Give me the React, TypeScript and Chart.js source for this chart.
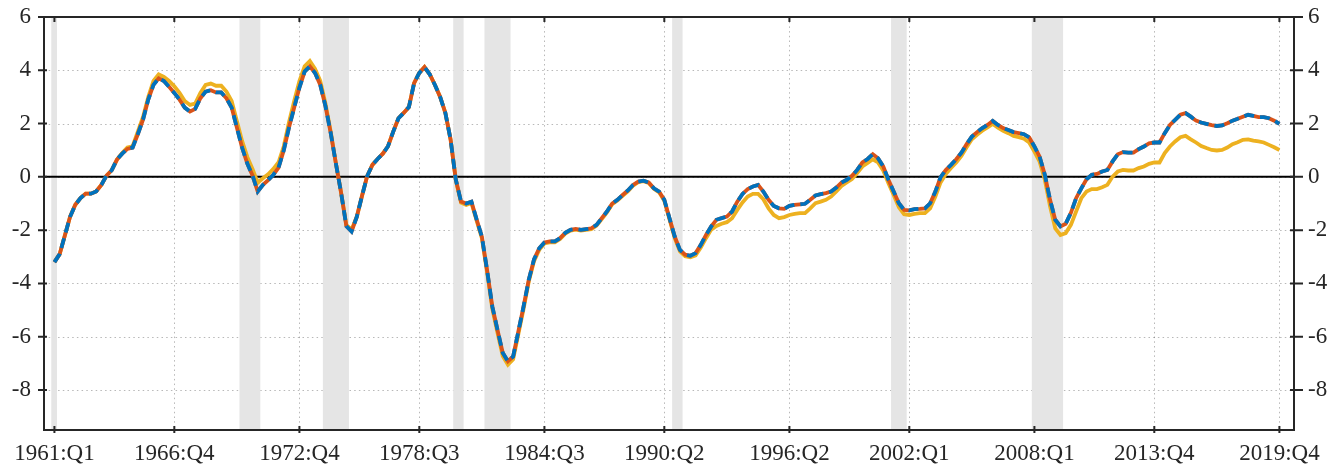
import React, { useEffect, useRef } from 'react';
import { Chart, registerables } from 'chart.js';

Chart.register(...registerables);

// Quarterly categories 1961:Q1 .. 2019:Q4
const FIRST_YEAR = 1961;
const LAST_YEAR = 2019;
const quarters: string[] = [];
for (let yr = FIRST_YEAR; yr <= LAST_YEAR; yr++) {
  for (let q = 1; q <= 4; q++) quarters.push(`${yr}:Q${q}`);
}

const xTickLabels = ['1961:Q1', '1966:Q4', '1972:Q4', '1978:Q3', '1984:Q3', '1990:Q2', '1996:Q2', '2002:Q1', '2008:Q1', '2013:Q4', '2019:Q4'];
const yTickValues = [-8, -6, -4, -2, 0, 2, 4, 6];

// recession bands, in quarter-index units
const recessionStart = [-0.6, 35.5, 51.5, 76.5, 82.5, 118.5, 160.5, 187.5];
const recessionEnd = [0.5, 39.5, 56.5, 78.5, 87.5, 120.5, 163.5, 193.5];

// red series (solid)
const seriesRed = [
  -3.2, -2.9, -2.2, -1.5, -1.05, -0.8, -0.63, -0.63, -0.55, -0.3,
  0.05, 0.25, 0.65, 0.87, 1.05, 1.1, 1.6, 2.15, 2.9, 3.45,
  3.7, 3.6, 3.38, 3.15, 2.9, 2.6, 2.45, 2.55, 2.95, 3.2,
  3.25, 3.17, 3.17, 2.95, 2.6, 1.85, 1.1, 0.5, 0.05, -0.55,
  -0.3, -0.12, 0.08, 0.35, 1.0, 1.85, 2.6, 3.35, 3.95, 4.15,
  3.9, 3.45, 2.65, 1.65, 0.5, -0.6, -1.85, -2.05, -1.5, -0.72,
  0.03, 0.45, 0.67, 0.87, 1.15, 1.7, 2.2, 2.4, 2.62, 3.52,
  3.9, 4.12, 3.85, 3.45, 3.0, 2.4, 1.4, -0.1, -0.93, -1.0,
  -0.93, -1.6, -2.24, -3.5, -4.86, -5.74, -6.6, -6.92, -6.74, -5.8,
  -4.86, -3.86, -3.1, -2.68, -2.46, -2.42, -2.42, -2.3, -2.1, -1.99,
  -1.95, -1.99, -1.96, -1.93, -1.8, -1.55, -1.3, -1.0, -0.86, -0.68,
  -0.51, -0.3, -0.18, -0.14, -0.21, -0.43, -0.55, -0.86, -1.55, -2.24,
  -2.74, -2.92, -2.96, -2.86, -2.55, -2.18, -1.86, -1.61, -1.55, -1.49,
  -1.3, -0.93, -0.64, -0.46, -0.36, -0.3, -0.55, -0.86, -1.09, -1.18,
  -1.2, -1.09, -1.05, -1.03, -1.01, -0.86, -0.7, -0.65, -0.61, -0.55,
  -0.4, -0.21, -0.11, 0.04, 0.26, 0.54, 0.67, 0.85, 0.7, 0.39,
  -0.11, -0.55, -0.99, -1.24, -1.26, -1.21, -1.2, -1.18, -0.99, -0.55,
  -0.01, 0.26, 0.45, 0.66, 0.91, 1.23, 1.51, 1.68, 1.83, 1.95,
  2.1, 1.95, 1.83, 1.76, 1.68, 1.64, 1.6, 1.48, 1.14, 0.76,
  0.08, -0.86, -1.61, -1.86, -1.76, -1.35, -0.8, -0.43, -0.09, 0.08,
  0.11, 0.2, 0.26, 0.58, 0.85, 0.93, 0.91, 0.91, 1.04, 1.14,
  1.26, 1.29, 1.29, 1.64, 1.95, 2.14, 2.33, 2.39, 2.26, 2.11,
  2.04, 1.99, 1.94, 1.91, 1.93, 2.01, 2.11, 2.18, 2.26, 2.33,
  2.29, 2.24, 2.24, 2.2, 2.11, 1.99,
];

// blue dashed series: visually indistinguishable from the red one
const seriesBlue = [...seriesRed];

// orange/yellow series
const seriesOrange = [
  -3.2, -2.9, -2.2, -1.5, -1.05, -0.8, -0.63, -0.63, -0.55, -0.3,
  0.05, 0.25, 0.65, 0.9, 1.1, 1.15, 1.7, 2.25, 3.0, 3.6,
  3.85, 3.75, 3.6, 3.4, 3.15, 2.85, 2.7, 2.75, 3.15, 3.45,
  3.5, 3.42, 3.42, 3.2, 2.85, 2.1, 1.35, 0.75, 0.3, -0.22,
  -0.05, 0.1, 0.3, 0.55, 1.15, 2.05, 2.85, 3.6, 4.15, 4.35,
  4.05, 3.6, 2.75, 1.7, 0.5, -0.6, -1.8, -1.98, -1.5, -0.72,
  0.03, 0.45, 0.67, 0.87, 1.15, 1.7, 2.2, 2.4, 2.62, 3.52,
  3.9, 4.12, 3.85, 3.45, 3.0, 2.4, 1.4, -0.12, -0.97, -1.05,
  -0.98, -1.65, -2.3, -3.58, -4.95, -5.85, -6.72, -7.05, -6.85, -5.9,
  -4.95, -3.93, -3.17, -2.74, -2.5, -2.46, -2.46, -2.33, -2.13, -2.02,
  -1.98, -2.02, -1.99, -1.96, -1.83, -1.58, -1.33, -1.03, -0.89, -0.71,
  -0.54, -0.33, -0.2, -0.16, -0.23, -0.45, -0.58, -0.9, -1.6, -2.3,
  -2.8, -2.98, -3.02, -2.95, -2.65, -2.3, -1.98, -1.84, -1.76, -1.7,
  -1.55, -1.24, -0.96, -0.74, -0.64, -0.64, -0.84, -1.18, -1.43, -1.55,
  -1.51, -1.43, -1.39, -1.36, -1.36, -1.18, -0.99, -0.93, -0.86, -0.74,
  -0.55, -0.34, -0.21, -0.08, 0.14, 0.39, 0.52, 0.66, 0.54, 0.24,
  -0.24, -0.68, -1.14, -1.4, -1.43, -1.39, -1.36, -1.36, -1.18, -0.74,
  -0.21, 0.11, 0.33, 0.54, 0.79, 1.11, 1.41, 1.58, 1.73, 1.86,
  1.99, 1.85, 1.73, 1.64, 1.54, 1.49, 1.43, 1.29, 0.95, 0.57,
  -0.11, -1.11, -1.93, -2.18, -2.11, -1.8, -1.3, -0.8, -0.55, -0.46,
  -0.46, -0.39, -0.3, 0.01, 0.2, 0.26, 0.24, 0.24, 0.33, 0.39,
  0.49, 0.54, 0.54, 0.89, 1.14, 1.33, 1.49, 1.54, 1.41, 1.29,
  1.16, 1.08, 1.01, 0.99, 1.01, 1.1, 1.23, 1.3, 1.39, 1.41,
  1.36, 1.33, 1.29, 1.2, 1.11, 1.01,
];

const X_MIN = -2;
const X_MAX = 237.8;
const Y_MIN = -9.5;
const Y_MAX = 6;

const W = 1343;
const H = 466;
const FONT = { family: '"Liberation Serif", "Times New Roman", serif', size: 23 };
const INK = '#262626';
const LINE_W = 3.8;

const xTickValues = xTickLabels.map((l) => quarters.indexOf(l));
const toPoints = (arr: number[]) => arr.map((v, i) => ({ x: i, y: v }));

const decor = {
  id: 'decor',
  beforeDatasetsDraw(chart: any) {
    const { ctx, chartArea: a, scales } = chart;
    const x = scales.x;
    const y = scales.y;
    ctx.save();
    // dotted grid
    ctx.strokeStyle = 'rgba(38,38,38,0.33)';
    ctx.lineWidth = 1;
    ctx.setLineDash([1.5, 3.2]);
    xTickValues.forEach((t) => {
      const px = Math.round(x.getPixelForValue(t)) + 0.5;
      ctx.beginPath();
      ctx.moveTo(px, a.top);
      ctx.lineTo(px, a.bottom);
      ctx.stroke();
    });
    yTickValues.forEach((v) => {
      const py = Math.round(y.getPixelForValue(v)) + 0.5;
      ctx.beginPath();
      ctx.moveTo(a.left, py);
      ctx.lineTo(a.right, py);
      ctx.stroke();
    });
    ctx.setLineDash([]);
    // recession shading
    ctx.fillStyle = '#e5e5e5';
    recessionStart.forEach((s, k) => {
      const x1 = Math.max(a.left, x.getPixelForValue(s));
      const x2 = Math.min(a.right, x.getPixelForValue(recessionEnd[k]));
      ctx.fillRect(x1, a.top, x2 - x1, a.bottom - a.top);
    });
    // zero line
    const y0 = y.getPixelForValue(0);
    ctx.strokeStyle = '#000';
    ctx.lineWidth = 2;
    ctx.beginPath();
    ctx.moveTo(a.left, y0);
    ctx.lineTo(a.right, y0);
    ctx.stroke();
    ctx.restore();
  },
  afterDraw(chart: any) {
    const { ctx, chartArea: a, scales } = chart;
    const x = scales.x;
    const y = scales.y;
    ctx.save();
    ctx.strokeStyle = INK;
    ctx.lineWidth = 2;
    ctx.strokeRect(a.left, a.top, a.right - a.left, a.bottom - a.top);
    ctx.lineWidth = 2;
    xTickValues.forEach((t) => {
      const px = x.getPixelForValue(t);
      ctx.beginPath();
      ctx.moveTo(px, a.bottom - 4);
      ctx.lineTo(px, a.bottom + 3);
      ctx.moveTo(px, a.top);
      ctx.lineTo(px, a.top + 5);
      ctx.stroke();
    });
    yTickValues.forEach((v) => {
      const py = y.getPixelForValue(v);
      ctx.beginPath();
      ctx.moveTo(a.left - 6, py);
      ctx.lineTo(a.left + 3, py);
      ctx.moveTo(a.right - 4, py);
      ctx.lineTo(a.right + 9, py);
      ctx.stroke();
    });
    ctx.restore();
  },
};

export default function App() {
  const ref = useRef<HTMLCanvasElement>(null);
  useEffect(() => {
    if (!ref.current) return;
    const chart = new Chart(ref.current, {
      type: 'line',
      data: {
        datasets: [
          {
            label: 'blue',
            data: toPoints(seriesBlue),
            borderColor: '#0072BD',
            borderWidth: LINE_W,
            borderDash: [10, 6],
            pointRadius: 0,
            tension: 0,
          },
          {
            label: 'red',
            data: toPoints(seriesRed),
            borderColor: '#D95319',
            borderWidth: LINE_W,
            pointRadius: 0,
            tension: 0,
          },
          {
            label: 'orange',
            data: toPoints(seriesOrange),
            borderColor: '#EDB120',
            borderWidth: LINE_W,
            pointRadius: 0,
            tension: 0,
          },
        ],
      },
      options: {
        responsive: false,
        animation: false,
        events: [],
        layout: { padding: { top: 17, left: 0, right: 0, bottom: 0 } },
        plugins: { legend: { display: false }, tooltip: { enabled: false } },
        scales: {
          x: {
            type: 'linear',
            min: X_MIN,
            max: X_MAX,
            afterBuildTicks: (s: any) => {
              s.ticks = xTickValues.map((v) => ({ value: v }));
            },
            afterFit: (s: any) => {
              s.height = 36;
              s.paddingLeft = 0;
              s.paddingRight = 0;
            },
            grid: { display: false, drawTicks: false },
            border: { display: false },
            ticks: {
              autoSkip: false,
              maxRotation: 0,
              minRotation: 0,
              padding: 10,
              color: INK,
              font: FONT,
              callback: (v: any) => quarters[v as number] ?? '',
            },
          },
          y: {
            type: 'linear',
            position: 'left',
            min: Y_MIN,
            max: Y_MAX,
            afterBuildTicks: (s: any) => {
              s.ticks = yTickValues.map((v) => ({ value: v }));
            },
            afterFit: (s: any) => {
              s.width = 44;
              s.paddingTop = 0;
              s.paddingBottom = 0;
            },
            grid: { display: false, drawTicks: false },
            border: { display: false },
            ticks: { padding: 13, color: INK, font: FONT, callback: (v: any) => String(v) },
          },
          y2: {
            type: 'linear',
            position: 'right',
            min: Y_MIN,
            max: Y_MAX,
            afterBuildTicks: (s: any) => {
              s.ticks = yTickValues.map((v) => ({ value: v }));
            },
            afterFit: (s: any) => {
              s.width = 49;
              s.paddingTop = 0;
              s.paddingBottom = 0;
            },
            grid: { display: false, drawTicks: false },
            border: { display: false },
            ticks: { padding: 14, color: INK, font: FONT, callback: (v: any) => String(v) },
          },
        },
      },
      plugins: [decor],
    } as any);
    return () => chart.destroy();
  }, []);
  return (
    <div style={{ position: 'fixed', left: 0, top: 0, width: W, height: H, background: '#fff' }}>
      <canvas ref={ref} width={W} height={H} style={{ display: 'block', width: W, height: H }} />
    </div>
  );
}
